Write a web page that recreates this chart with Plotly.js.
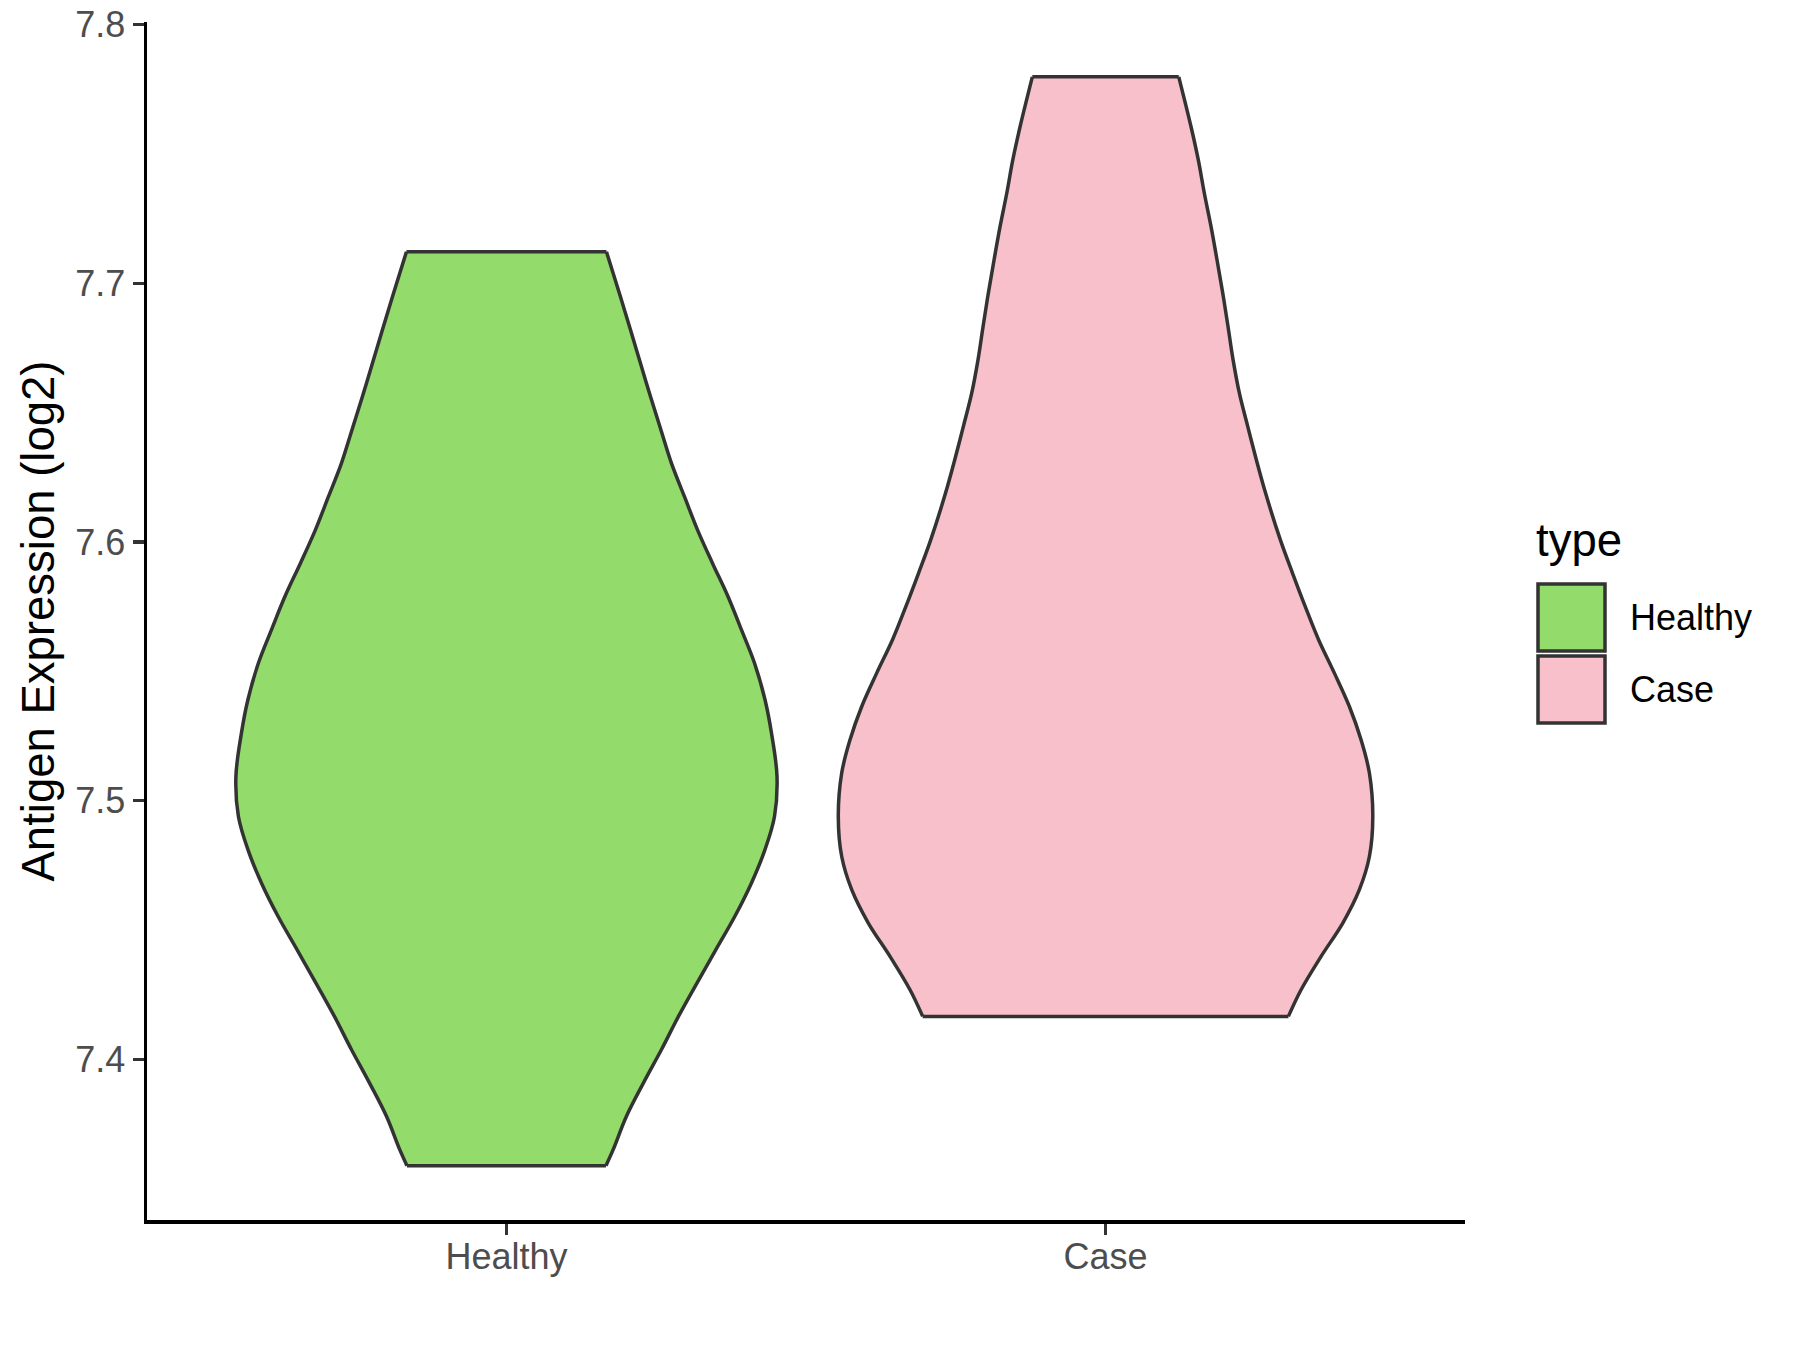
<!DOCTYPE html>
<html>
<head>
<meta charset="utf-8">
<script src="https://cdn.plot.ly/plotly-3.0.1.min.js"></script>
<style>html,body{margin:0;padding:0;background:#fff;}#chart{width:1800px;height:1350px;}</style>
</head>
<body>
<div id="chart"></div>
<script>
// ---- data ----
const categories = ['Healthy', 'Case'];
const fillColors = ['#93DB6B', '#F7C0CB'];
const yTickValues = [7.4, 7.5, 7.6, 7.7, 7.8];

// violin outline: expression level (log2) and half-width of the density profile (x units)
const healthyLevels = [7.7122, 7.6948, 7.6820, 7.6691, 7.6562, 7.6433, 7.6304, 7.6175, 7.6047, 7.5918,
  7.5789, 7.5660, 7.5532, 7.5390, 7.5261, 7.5094, 7.4939, 7.4810, 7.4682, 7.4553,
  7.4424, 7.4295, 7.4166, 7.4038, 7.3909, 7.3780, 7.3651, 7.3589];
const healthyHalfWidth = [0.1669, 0.1903, 0.2070, 0.2237, 0.2404, 0.2579, 0.2755, 0.2972, 0.3189, 0.3439,
  0.3698, 0.3923, 0.4140, 0.4316, 0.4424, 0.4516, 0.4474, 0.4314, 0.4090, 0.3813,
  0.3496, 0.3180, 0.2871, 0.2588, 0.2287, 0.2003, 0.1781, 0.1661];

const caseLevels = [7.7798, 7.7605, 7.7476, 7.7348, 7.7219, 7.7090, 7.6961, 7.6832, 7.6704, 7.6575,
  7.6446, 7.6317, 7.6189, 7.6008, 7.5879, 7.5750, 7.5622, 7.5493, 7.5364, 7.5235,
  7.5107, 7.4939, 7.4784, 7.4656, 7.4527, 7.4398, 7.4269, 7.4166];
const caseHalfWidth = [0.1222, 0.1427, 0.1549, 0.1649, 0.1761, 0.1861, 0.1957, 0.2045, 0.2129, 0.2234,
  0.2374, 0.2518, 0.2671, 0.2918, 0.3122, 0.3334, 0.3556, 0.3820, 0.4070, 0.4265,
  0.4404, 0.4461, 0.4404, 0.4237, 0.3960, 0.3598, 0.3264, 0.3052];

// ---- build traces ----
function violinTraces(pos, levels, half, color, name) {
  const n = levels.length;
  const fx = [], fy = [];
  for (let i = 0; i < n; i++) { fx.push(pos - half[i]); fy.push(levels[i]); }
  for (let i = n - 1; i >= 0; i--) { fx.push(pos + half[i]); fy.push(levels[i]); }
  fx.push(fx[0]); fy.push(fy[0]);
  const fillTrace = {
    type: 'scatter', mode: 'lines', x: fx, y: fy, name: name,
    fill: 'toself', fillcolor: color, line: {width: 0, color: color},
    showlegend: false, hoverinfo: 'name'
  };
  // outline: smooth sides, straight flat ends (segments separated by gaps)
  const ox = [], oy = [];
  for (let i = 0; i < n; i++) { ox.push(pos - half[i]); oy.push(levels[i]); }
  ox.push(null); oy.push(null);
  for (let i = 0; i < n; i++) { ox.push(pos + half[i]); oy.push(levels[i]); }
  ox.push(null); oy.push(null);
  ox.push(pos - half[0], pos + half[0]); oy.push(levels[0], levels[0]);
  ox.push(null); oy.push(null);
  ox.push(pos - half[n - 1], pos + half[n - 1]); oy.push(levels[n - 1], levels[n - 1]);
  const lineTrace = {
    type: 'scatter', mode: 'lines', x: ox, y: oy, name: name, connectgaps: false,
    line: {color: '#333333', width: 3.5, shape: 'spline', smoothing: 1},
    showlegend: false, hoverinfo: 'skip'
  };
  return [fillTrace, lineTrace];
}

const traces = [].concat(
  violinTraces(1, healthyLevels, healthyHalfWidth, fillColors[0], categories[0]),
  violinTraces(2, caseLevels, caseHalfWidth, fillColors[1], categories[1])
);

// ---- layout ----
const W = 1800, H = 1350;
const M = {l: 147, r: 335, t: 22, b: 130};
const pw = W - M.l - M.r, ph = H - M.t - M.b;
const px2x = p => (p - M.l) / pw;
const px2y = p => (H - M.b - p) / ph;
const FONT = 'Liberation Sans, Arial, sans-serif';

const shapes = [], annotations = [];
// legend (custom keys, ggplot style)
annotations.push({xref: 'paper', yref: 'paper', x: px2x(1534), y: px2y(540), xanchor: 'left', yanchor: 'middle',
  text: 'type', showarrow: false, font: {family: FONT, size: 45.5, color: '#000000'}});
const keyTop = [584, 656], keyH = 67;
categories.forEach((c, i) => {
  shapes.push({type: 'rect', xref: 'paper', yref: 'paper',
    x0: px2x(1538), x1: px2x(1605), y0: px2y(keyTop[i]), y1: px2y(keyTop[i] + keyH),
    fillcolor: fillColors[i], line: {color: '#333333', width: 3.5}});
  annotations.push({xref: 'paper', yref: 'paper', x: px2x(1628), y: px2y(keyTop[i] + keyH / 2), xanchor: 'left', yanchor: 'middle',
    text: c, showarrow: false, font: {family: FONT, size: 36, color: '#000000'}});
});

const layout = {
  width: W, height: H,
  margin: M,
  paper_bgcolor: '#ffffff', plot_bgcolor: '#ffffff',
  font: {family: FONT},
  showlegend: false,
  xaxis: {
    range: [0.4, 2.6], tickmode: 'array', tickvals: [1, 2], ticktext: categories,
    showline: true, linecolor: '#000000', linewidth: 3.5, mirror: false,
    ticks: 'outside', ticklen: 11, tickwidth: 3.3, tickcolor: '#333333',
    showgrid: false, zeroline: false, ticklabelstandoff: -9,
    tickfont: {family: FONT, size: 36, color: '#4D4D4D'}
  },
  yaxis: {
    range: [7.3379, 7.801], tickmode: 'array', tickvals: yTickValues,
    ticktext: yTickValues.map(v => v.toFixed(1)),
    showline: true, linecolor: '#000000', linewidth: 3.5,
    ticks: 'outside', ticklen: 11, tickwidth: 3.3, tickcolor: '#333333',
    showgrid: false, zeroline: false,
    tickfont: {family: FONT, size: 36, color: '#4D4D4D'},
    title: {text: 'Antigen Expression (log2)', font: {family: FONT, size: 45.5, color: '#000000'}, standoff: 7}
  },
  shapes: shapes,
  annotations: annotations
};

Plotly.newPlot('chart', traces, layout, {staticPlot: true, displayModeBar: false});
</script>
</body>
</html>
